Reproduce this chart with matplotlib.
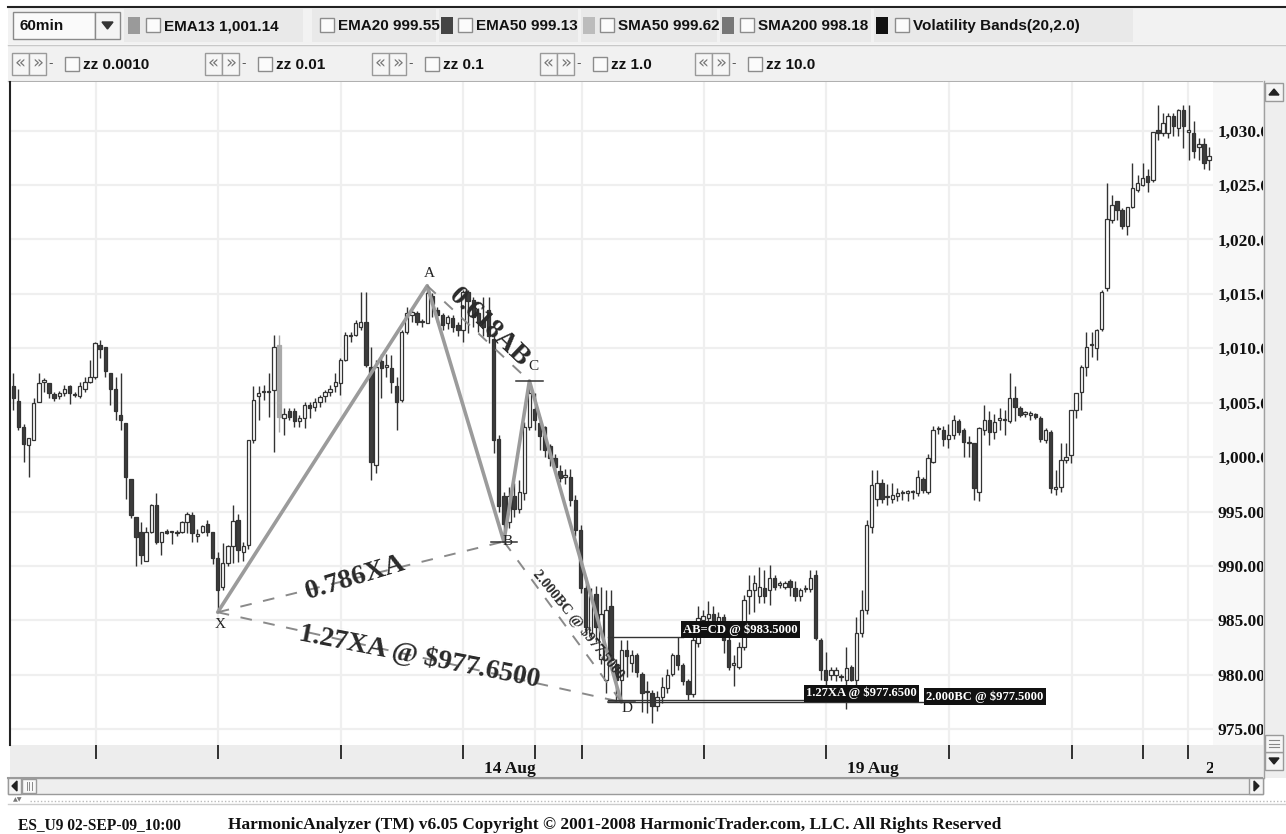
import matplotlib
matplotlib.use("Agg")
import matplotlib.pyplot as plt
from matplotlib.patches import Rectangle
from matplotlib.transforms import Bbox, blended_transform_factory
import numpy as np

# ---------------- data ----------------
opens = [
    1006.5, 1005.2, 1002.8, 1001.1, 1001.6, 1005.1, 1006.9, 1006.8, 1005.8, 1005.6,
    1005.9, 1006.5, 1005.8, 1005.6, 1006.3, 1006.9, 1007.4, 1010.3, 1010.1, 1007.7,
    1006.3, 1003.9, 1003.1, 998.0, 994.5, 993.1, 990.5, 993.1, 995.6, 992.2,
    993.2, 993.1, 993.1, 993.1, 994.0, 994.7, 992.8, 993.1, 993.9, 993.1,
    990.7, 988.1, 990.25, 991.8, 994.2, 991.3, 991.9, 1001.6, 1005.6, 1006.0,
    1006.0, 1006.2, 1010.3, 1003.6, 1004.2, 1004.2, 1003.3, 1003.6, 1004.8, 1004.6,
    1005.1, 1005.6, 1006.0, 1006.5, 1006.8, 1008.9, 1011.1, 1011.2, 1012.0, 1012.4,
    1008.3, 999.3, 1008.8, 1008.3, 1008.2, 1006.5, 1005.25, 1011.5, 1013.1, 1013.2,
    1012.4, 1012.3, 1014.8, 1013.5, 1013.1, 1012.3, 1012.8, 1012.1, 1011.7, 1015.2,
    1014.4, 1013.2, 1012.6, 1013.5, 1010.9, 1001.7, 996.4, 994.0, 996.4, 995.2,
    996.7, 1002.8, 1004.4, 1003.1, 1002.8, 1001.0, 999.9, 998.7, 998.2, 998.2,
    996.1, 993.3, 988.0, 983.8, 987.4, 981.5, 979.5, 986.3, 981.0, 979.5,
    982.3, 981.1, 981.8, 980.1, 978.4, 978.3, 977.1, 978.0, 978.8, 980.1,
    981.8, 980.9, 979.4, 978.2, 982.9, 985.0, 985.2, 985.6, 984.7, 985.3,
    983.2, 980.9, 980.75, 982.6, 987.2, 987.8, 987.2, 988.0, 987.8, 988.9,
    988.3, 988.1, 988.6, 988.0, 987.2, 987.9, 987.9, 989.2, 983.2, 980.45,
    980.0, 980.0, 979.9, 979.5, 980.75, 979.5, 983.8, 986.0, 993.6, 996.2,
    997.6, 996.3, 996.2, 996.4, 996.7, 996.75, 996.8, 996.7, 998.0, 996.8,
    999.6, 1002.6, 1002.5, 1001.7, 1002.0, 1003.3, 1002.5, 1001.3, 1001.3, 996.8,
    1002.5, 1003.4, 1002.35, 1003.4, 1003.4, 1003.3, 1005.4, 1004.5, 1004.0, 1003.9,
    1004.0, 1003.6, 1001.6, 1002.35, 997.1, 997.3, 999.75, 1000.2, 1004.3, 1006.0,
    1008.3, 1010.3, 1010.0, 1011.8, 1015.5, 1021.8, 1023.5, 1022.7, 1021.2, 1023.0,
    1024.5, 1025.0, 1025.8, 1025.5, 1030.1, 1029.75, 1029.75, 1031.3, 1030.2, 1031.9,
    1029.9, 1029.75, 1028.5, 1028.8, 1027.3]
highs = [
    1007.7, 1006.3, 1003.0, 1001.8, 1005.4, 1007.7, 1007.3, 1006.8, 1006.0, 1006.1,
    1006.6, 1006.6, 1006.0, 1006.9, 1007.4, 1008.9, 1010.6, 1010.8, 1010.1, 1007.7,
    1007.4, 1007.7, 1003.1, 998.0, 994.5, 994.0, 993.6, 995.7, 996.7, 993.1,
    993.4, 993.2, 993.3, 994.1, 995.0, 995.0, 993.4, 993.8, 994.2, 993.1,
    991.3, 992.1, 991.9, 995.6, 994.8, 992.2, 1001.6, 1006.5, 1006.5, 1006.6,
    1007.7, 1011.2, 1011.2, 1004.5, 1004.5, 1004.5, 1003.9, 1005.1, 1005.1, 1005.4,
    1005.7, 1006.2, 1006.6, 1007.7, 1009.1, 1011.5, 1011.5, 1012.6, 1015.2, 1015.2,
    1010.1, 1008.9, 1009.5, 1009.5, 1009.4, 1007.4, 1011.7, 1013.8, 1013.5, 1013.4,
    1012.7, 1015.75, 1015.05, 1013.8, 1013.2, 1013.1, 1013.1, 1012.4, 1015.4, 1015.4,
    1014.7, 1013.7, 1014.7, 1014.7, 1011.4, 1002.0, 996.8, 997.3, 997.6, 997.9,
    1003.2, 1007.0, 1005.9, 1003.7, 1002.9, 1001.2, 1000.3, 999.3, 998.9, 998.9,
    996.5, 993.8, 989.0, 988.0, 988.2, 988.1, 987.8, 987.8, 981.5, 983.2,
    983.2, 982.3, 982.0, 980.3, 979.4, 978.6, 978.5, 979.8, 980.5, 982.0,
    983.5, 981.1, 979.6, 983.5, 986.3, 986.0, 986.8, 986.3, 985.8, 985.6,
    983.5, 981.8, 983.0, 987.3, 989.2, 989.2, 989.9, 989.6, 990.1, 989.2,
    988.6, 988.6, 988.8, 988.6, 988.0, 988.3, 989.6, 989.6, 983.4, 982.1,
    980.7, 980.7, 980.1, 982.6, 980.9, 985.35, 987.8, 994.2, 998.8, 998.8,
    998.0, 997.5, 997.6, 997.2, 997.0, 997.0, 997.0, 998.8, 998.2, 1000.3,
    1002.9, 1002.9, 1002.9, 1003.0, 1003.9, 1003.5, 1002.7, 1001.9, 1001.3, 1002.8,
    1004.8, 1004.2, 1004.0, 1004.5, 1004.3, 1007.7, 1006.5, 1004.7, 1004.2, 1004.2,
    1004.1, 1003.8, 1002.7, 1002.5, 998.8, 1001.3, 1001.3, 1004.3, 1005.85, 1008.5,
    1011.5, 1011.5, 1011.8, 1015.4, 1025.2, 1024.1, 1023.5, 1022.9, 1023.0, 1027.0,
    1025.9, 1027.0, 1026.5, 1029.9, 1032.35, 1031.6, 1031.6, 1031.6, 1032.0, 1032.35,
    1032.35, 1030.9, 1029.3, 1029.3, 1028.5]
lows = [
    1004.3, 1002.5, 999.6, 998.2, 1001.6, 1005.1, 1006.0, 1005.4, 1005.2, 1005.3,
    1005.6, 1004.9, 1005.5, 1005.4, 1006.0, 1006.8, 1007.2, 1009.1, 1007.4, 1004.8,
    1003.4, 1002.5, 996.2, 994.4, 990.0, 990.2, 990.5, 993.0, 992.0, 991.0,
    992.9, 992.0, 992.8, 993.0, 993.0, 992.2, 992.2, 993.0, 992.8, 990.2,
    985.75, 987.8, 990.0, 990.25, 990.4, 990.5, 991.6, 1001.3, 1003.4, 1005.25,
    1003.7, 1000.5, 1002.3, 1002.0, 1003.4, 1002.8, 1002.8, 1002.7, 1003.6, 1004.2,
    1004.6, 1005.1, 1005.6, 1006.0, 1005.7, 1008.8, 1010.6, 1011.1, 1011.7, 1008.3,
    997.9, 998.5, 1005.4, 1007.4, 1005.9, 1002.5, 1005.1, 1011.3, 1012.4, 1012.1,
    1012.0, 1012.3, 1012.9, 1012.4, 1011.7, 1011.8, 1011.5, 1011.1, 1010.6, 1011.4,
    1012.0, 1011.5, 1011.1, 1010.5, 1000.4, 995.0, 992.25, 993.5, 994.5, 994.9,
    996.1, 1002.5, 1002.5, 1000.7, 1000.0, 999.2, 998.5, 997.7, 997.5, 995.5,
    992.8, 987.5, 984.0, 983.5, 983.0, 981.0, 978.3, 980.5, 977.6, 977.5,
    979.8, 980.3, 979.8, 976.6, 976.5, 975.6, 976.7, 977.4, 978.3, 979.9,
    980.4, 979.1, 977.7, 978.0, 982.6, 984.1, 984.5, 984.0, 983.9, 982.0,
    980.45, 979.0, 980.5, 982.3, 985.6, 985.8, 986.6, 986.6, 986.4, 987.8,
    988.0, 987.9, 987.2, 986.8, 986.8, 987.6, 987.6, 983.2, 979.5, 978.8,
    979.5, 979.4, 979.4, 976.9, 979.4, 978.9, 983.5, 985.6, 993.0, 995.5,
    995.8, 995.6, 995.8, 996.0, 996.1, 996.0, 996.2, 996.4, 996.7, 996.6,
    999.5, 1002.1, 1001.0, 1000.8, 1001.7, 1002.0, 1000.05, 1000.05, 996.05, 996.0,
    1002.0, 1001.1, 1001.7, 1002.5, 1002.0, 1003.1, 1003.3, 1003.7, 1003.7, 1003.4,
    1003.5, 1001.4, 1001.3, 996.7, 996.5, 996.8, 999.5, 999.5, 1003.6, 1004.3,
    1007.5, 1009.2, 1008.9, 1011.6, 1015.3, 1021.5, 1021.8, 1021.0, 1020.4, 1022.9,
    1024.4, 1024.9, 1024.4, 1025.3, 1029.1, 1029.5, 1029.3, 1029.5, 1029.5, 1028.4,
    1027.3, 1027.5, 1027.3, 1026.5, 1026.4]
closes = [
    1005.4, 1002.8, 1001.2, 1001.8, 1005.0, 1006.8, 1007.1, 1005.9, 1005.4, 1005.9,
    1006.3, 1005.9, 1005.7, 1006.5, 1006.9, 1007.4, 1010.5, 1009.9, 1007.9, 1006.3,
    1004.2, 1003.4, 998.2, 994.7, 992.7, 991.0, 993.1, 995.6, 992.2, 993.1,
    993.0, 993.1, 993.0, 994.0, 994.8, 993.0, 992.8, 993.7, 993.1, 990.7,
    987.8, 990.25, 991.8, 994.1, 991.5, 991.8, 1001.6, 1005.25, 1005.9, 1006.0,
    1006.0, 1010.15, 1003.7, 1004.0, 1003.7, 1003.3, 1003.6, 1004.8, 1004.5, 1005.1,
    1005.55, 1006.0, 1006.3, 1006.9, 1008.9, 1011.2, 1011.2, 1012.3, 1012.4, 1008.5,
    999.6, 1008.3, 1008.2, 1008.3, 1006.9, 1005.1, 1011.5, 1013.2, 1013.3, 1012.4,
    1012.4, 1015.05, 1014.1, 1013.1, 1012.1, 1012.9, 1012.0, 1011.7, 1015.2, 1014.3,
    1012.9, 1012.4, 1012.0, 1011.1, 1001.6, 995.5, 993.9, 996.4, 995.2, 996.8,
    1002.8, 1005.9, 1003.4, 1001.9, 1000.7, 999.9, 999.1, 998.1, 998.2, 996.1,
    993.3, 988.0, 984.4, 987.2, 984.4, 985.6, 986.0, 981.4, 979.5, 982.3,
    981.7, 981.8, 980.3, 978.3, 978.5, 977.1, 978.0, 978.9, 980.0, 981.8,
    980.9, 979.4, 978.2, 983.2, 985.2, 985.4, 985.6, 984.7, 985.3, 983.2,
    980.75, 981.1, 982.6, 986.9, 987.8, 988.4, 988.1, 987.2, 988.9, 988.1,
    988.3, 988.4, 988.1, 987.2, 987.8, 988.0, 988.9, 983.35, 980.45, 979.5,
    980.45, 980.4, 979.8, 980.6, 979.5, 983.8, 986.0, 993.8, 997.45, 997.6,
    996.2, 996.4, 996.5, 996.75, 996.75, 996.8, 996.8, 998.2, 997.0, 999.9,
    1002.5, 1002.6, 1001.7, 1002.0, 1003.4, 1002.35, 1001.4, 1001.3, 997.15, 1002.65,
    1003.4, 1002.35, 1003.25, 1003.6, 1003.5, 1005.4, 1004.6, 1003.9, 1004.0, 1004.1,
    1003.7, 1001.7, 1002.5, 997.15, 997.2, 999.75, 1000.05, 1004.3, 1005.85, 1008.3,
    1010.15, 1010.3, 1011.7, 1015.2, 1021.9, 1023.2, 1022.7, 1021.2, 1023.0, 1024.7,
    1025.2, 1025.6, 1025.3, 1029.9, 1029.75, 1030.7, 1031.3, 1030.4, 1031.9, 1030.4,
    1029.9, 1028.1, 1028.8, 1027.0, 1027.7]
gray_candles = [52]

y_ticks = [975, 980, 985, 990, 995, 1000, 1005, 1010, 1015, 1020, 1025, 1030]
y_tick_labels = ['975.00', '980.00', '985.00', '990.00', '995.00', '1,000.00',
                 '1,005.00', '1,010.00', '1,015.00', '1,020.00', '1,025.00', '1,030.00']
grid_x = [16.2, 40.1, 64.1, 88.0, 102.1, 111.3, 135.2, 159.0, 183.1, 207.2, 221.1, 229.9]
date_labels = ['14 Aug', '19 Aug', '20 Aug']
date_label_x = [97.2, 168.2, 233.4]

pivot_names = ['X', 'A', 'B', 'C', 'D']
pivot_idx = [40, 81, 96, 101, 119]
pivot_price = [985.75, 1015.75, 992.25, 1007.0, 977.5]

target_text = ['AB=CD @ $983.5000', '1.27XA @ $977.6500', '2.000BC @ $977.5000']
target_price = [983.5, 977.65, 977.5]
target_box_x = [131.1, 155.1, 178.6]

ratio_text = ['0.786XA', '1.27XA @ $977.6500', '0.618AB', '2.000BC @ $977.5000']

toolbar1 = ['EMA13 1,001.14', 'EMA20 999.55', 'EMA50 999.13', 'SMA50 999.62',
            'SMA200 998.18', 'Volatility Bands(20,2.0)']
toolbar2 = ['zz 0.0010', 'zz 0.01', 'zz 0.1', 'zz 1.0', 'zz 10.0']
status_left = 'ES_U9 02-SEP-09_10:00'
status_right = ('HarmonicAnalyzer (TM) v6.05 Copyright \u00a9 2001-2008 '
                'HarmonicTrader.com, LLC. All Rights Reserved')

# ---------------- layout ----------------
W, H = 1286, 834
fig = plt.figure(figsize=(W / 100, H / 100), dpi=100)
fig.patch.set_facecolor('white')

ui = fig.add_axes([0, 0, 1, 1], zorder=0)
ui.set_xlim(0, W); ui.set_ylim(H, 0); ui.axis('off')

SANS = ['Liberation Sans', 'DejaVu Sans']
SERIF = ['Liberation Serif', 'DejaVu Serif']

# toolbar rows
ui.add_patch(Rectangle((8, 7), W - 8, 37, facecolor='#f2f2f2', edgecolor='none'))
ui.plot([8, W], [7, 7], color='#222', lw=1.5)
cells = [(124, 306), (312, 439), (439, 581), (581, 720), (720, 874), (874, 1136)]
for c0, c1 in cells:
    ui.add_patch(Rectangle((c0, 9), c1 - c0 - 3, 33, facecolor='#e9e9e9', edgecolor='none'))
ui.add_patch(Rectangle((8, 45), W - 8, 35, facecolor='#f1f1f1', edgecolor='none'))
ui.plot([8, W], [44.5, 44.5], color='#c8c8c8', lw=1)
ui.plot([8, W], [80.5, 80.5], color='#b0b0b0', lw=1)

# row 1
ui.add_patch(Rectangle((13, 12), 82, 27, facecolor='#fafafa', edgecolor='#8a8a8a', lw=1))
ui.text(20, 26, '60min', fontsize=11, fontweight='bold', family=SANS, va='center', color='#111')
ui.add_patch(Rectangle((95, 12), 25, 27, facecolor='#f4f4f4', edgecolor='#8a8a8a', lw=1))
ui.add_patch(plt.Polygon([[102, 22], [113, 22], [107.5, 29]], closed=True, color='#333'))

swatch = {0: (128, '#9a9a9a'), 2: (441, '#444444'), 3: (583, '#bcbcbc'),
          4: (722, '#777777'), 5: (876, '#111111')}
box_x1 = [146, 320, 458, 600, 740, 895]
for k, txt in enumerate(toolbar1):
    if k in swatch:
        sx, sc = swatch[k]
        ui.add_patch(Rectangle((sx, 17), 12, 17, facecolor=sc, edgecolor='none'))
    bx = box_x1[k]
    ui.add_patch(Rectangle((bx, 18), 14, 14, facecolor='#fbfbfb', edgecolor='#8c8c8c', lw=1))
    ui.text(bx + 18, 26, txt, fontsize=11, fontweight='bold', family=SANS, va='center', color='#111')

# row 2
btn_x = [12, 205, 372, 540, 695]
for k, txt in enumerate(toolbar2):
    bx = btn_x[k]
    for j in range(2):
        ui.add_patch(Rectangle((bx + 17 * j, 53), 17, 22, facecolor='#f6f6f6', edgecolor='#9a9a9a', lw=1))
        ui.text(bx + 17 * j + 8.5, 63.5, '\u00ab' if j == 0 else '\u00bb', fontsize=13,
                ha='center', va='center', color='#777', family=['DejaVu Sans'])
    ui.text(bx + 36, 64, '-', fontsize=9, va='center', color='#555')
    ui.add_patch(Rectangle((bx + 53, 57), 14, 14, facecolor='#fbfbfb', edgecolor='#8c8c8c', lw=1))
    ui.text(bx + 71, 64.5, txt, fontsize=11, fontweight='bold', family=SANS, va='center', color='#111')

# chart axes
PX_L, PX_R, PX_T, PX_B = 10, 1213, 82, 745
ax = fig.add_axes([PX_L / W, 1 - PX_B / H, (PX_R - PX_L) / W, (PX_B - PX_T) / H], zorder=2)

def price_at(ypx):
    return 1010 - (ypx - 348.3) / 10.885

def idx_at(xpx):
    return (xpx - 13.3) / 5.11

ax.set_xlim(idx_at(PX_L), idx_at(PX_R))
ax.set_ylim(price_at(PX_B), price_at(PX_T))
ax.set_facecolor('white')
for s in ['top', 'right', 'bottom']:
    ax.spines[s].set_visible(False)
ax.spines['left'].set_color('#222')
ax.spines['left'].set_linewidth(1.5)

ax.set_xticks(grid_x)
ax.set_xticklabels([])
ax.tick_params(axis='x', length=10, width=1.3, color='#222', direction='out')
ax.yaxis.tick_right()
ax.set_yticks(y_ticks)
ax.set_yticklabels(y_tick_labels, fontsize=12.5, fontweight='bold', family=SERIF, color='#111')
ax.tick_params(axis='y', length=0, pad=3)
ax.grid(True, color='#efefef', lw=1.6)
ax.set_axisbelow(True)

# y-label panel + x-axis band (background)
ui.add_patch(Rectangle((1213, 82), 50, 663, facecolor='#f8f8f8', edgecolor='none'))
ui.add_patch(Rectangle((10, 745), 1253, 32, facecolor='#ededed', edgecolor='none'))
ui.plot([8, 1263], [777.5, 777.5], color='#9a9a9a', lw=1.5)

# candles
BW = 0.66
for i in range(len(closes)):
    o, h, l, c = opens[i], highs[i], lows[i], closes[i]
    if i in gray_candles:
        fc, ec = '#a9a9a9', '#a9a9a9'
    elif c >= o:
        fc, ec = 'white', '#333333'
    else:
        fc, ec = '#3c3c3c', '#333333'
    ax.plot([i, i], [min(l, o, c), max(h, o, c)], color=ec, lw=1.0, zorder=3,
            solid_capstyle='butt')
    bh = max(abs(c - o), 0.12)
    ax.add_patch(Rectangle((i - BW / 2, min(o, c)), BW, bh, facecolor=fc, edgecolor=ec,
                           lw=0.9, zorder=4))

# harmonic pattern
px_, py_ = pivot_idx, pivot_price
ax.plot(px_, py_, color='#9b9b9b', lw=2.6, zorder=6, solid_capstyle='round')
dash_pairs = [(0, 2), (0, 4), (1, 3), (2, 4)]
for a, b in dash_pairs:
    ax.plot([px_[a], px_[b]], [py_[a], py_[b]], color='#8a8a8a', lw=1.4,
            dashes=(6, 6), zorder=6)

def pix(i, p):
    return ax.transData.transform((i, p))

ratio_t = [0.48, 0.5, 0.52, 0.55]
ratio_size = [20, 20, 20, 10.5]
ratio_off = [(0, 0), (0, 0), (8, 8), (10, 6)]
ratio_extra = [3, 1.5, -1, 3]
for k, (a, b) in enumerate(dash_pairs):
    p1, p2 = pix(px_[a], py_[a]), pix(px_[b], py_[b])
    ang = np.degrees(np.arctan2(p2[1] - p1[1], p2[0] - p1[0])) + ratio_extra[k]
    t = ratio_t[k]
    xm = px_[a] + t * (px_[b] - px_[a])
    ym = py_[a] + t * (py_[b] - py_[a])
    ax.annotate(ratio_text[k], (xm, ym), xytext=ratio_off[k], textcoords='offset pixels',
                rotation=ang, rotation_mode='anchor', ha='center', va='center',
                fontsize=ratio_size[k], fontweight='bold', family=SERIF, color='#2a2a2a', zorder=7)

letter_off = [(2, -12), (2, 12), (4, 0), (4, 14), (6, -6)]
for k, n in enumerate(pivot_names):
    ax.annotate(n, (px_[k], py_[k]), xytext=letter_off[k], textcoords='offset pixels',
                ha='center', va='center', fontsize=11, family=SERIF, color='#222', zorder=8)
for k in [2, 3, 4]:
    ax.plot([px_[k] - 2.6, px_[k] + 2.6], [py_[k], py_[k]], color='#333', lw=1.1, zorder=8)

# target lines and boxes
start = px_[4] - 2.6
box_dy = [0.05, 0.1, -0.1]
for k, txt in enumerate(target_text):
    ax.plot([start, target_box_x[k]], [target_price[k]] * 2, color='#333', lw=1.0, zorder=6)
    ax.text(target_box_x[k], target_price[k] + box_dy[k], txt,
            fontsize=9.1, fontweight='bold', family=SERIF, color='white', va='bottom', ha='left',
            bbox=dict(boxstyle='square,pad=0.18', facecolor='#111', edgecolor='none'), zorder=9)

# date labels in the x band
bt = blended_transform_factory(ax.transData, ui.transData)
date_ha = ['center', 'center', 'left']
for k, lab in enumerate(date_labels):
    t = ui.text(date_label_x[k], 769, lab, transform=bt, ha=date_ha[k], va='center',
                fontsize=12.5, fontweight='bold', family=SERIF, color='#111', zorder=3)
    t.set_clip_on(True)
    t.set_clip_box(Bbox.from_extents(10, H - 777, 1213, H - 745))

# foreground chrome
fg = fig.add_axes([0, 0, 1, 1], zorder=5)
fg.set_xlim(0, W); fg.set_ylim(H, 0); fg.axis('off'); fg.patch.set_alpha(0)
fg.add_patch(Rectangle((1263, 81), W - 1263, 697, facecolor='#eeeeee', edgecolor='none'))
fg.plot([1263.5, 1263.5], [81, 778], color='#a0a0a0', lw=1)
fg.add_patch(Rectangle((1265, 83), 18, 18, facecolor='#f4f4f4', edgecolor='#9a9a9a', lw=1))
fg.add_patch(plt.Polygon([[1269, 95], [1279, 95], [1274, 89]], closed=True, color='#222'))
fg.add_patch(Rectangle((1265, 752), 18, 18, facecolor='#f4f4f4', edgecolor='#9a9a9a', lw=1))
fg.add_patch(plt.Polygon([[1269, 758], [1279, 758], [1274, 764]], closed=True, color='#222'))
fg.add_patch(Rectangle((1265, 735), 18, 17, facecolor='#f6f6f6', edgecolor='#9a9a9a', lw=1))
for yy in [740, 743.5, 747]:
    fg.plot([1269, 1279], [yy, yy], color='#888', lw=0.8)
fg.add_patch(Rectangle((8, 778), 1255, 16, facecolor='#eeeeee', edgecolor='#9a9a9a', lw=1))
fg.add_patch(Rectangle((8, 778), 13, 16, facecolor='#f4f4f4', edgecolor='#9a9a9a', lw=1))
fg.add_patch(plt.Polygon([[17, 781], [17, 791], [12, 786]], closed=True, color='#222'))
fg.add_patch(Rectangle((22, 779), 14, 14, facecolor='#f8f8f8', edgecolor='#9a9a9a', lw=1))
for xx in [26.5, 29, 31.5]:
    fg.plot([xx, xx], [782, 790], color='#888', lw=0.7)
fg.add_patch(Rectangle((1249, 778), 14, 16, facecolor='#f4f4f4', edgecolor='#9a9a9a', lw=1))
fg.add_patch(plt.Polygon([[1254, 781], [1254, 791], [1259, 786]], closed=True, color='#222'))
fg.text(13, 800, '\u25b2\u25bc', fontsize=4.5, color='#777', va='center')
fg.plot([30, W], [800.5, 800.5], color='#bbbbbb', lw=1, dashes=(1, 1.5))
fg.plot([8, W], [803.5, 803.5], color='#cccccc', lw=1)
fg.text(18, 825, status_left, fontsize=11.2, fontweight='bold', family=SERIF, va='center', color='#111')
fg.text(228, 825, status_right, fontsize=12.5, fontweight='bold', family=SERIF, va='center', color='#111')

fig.savefig('out.png', dpi=100)
